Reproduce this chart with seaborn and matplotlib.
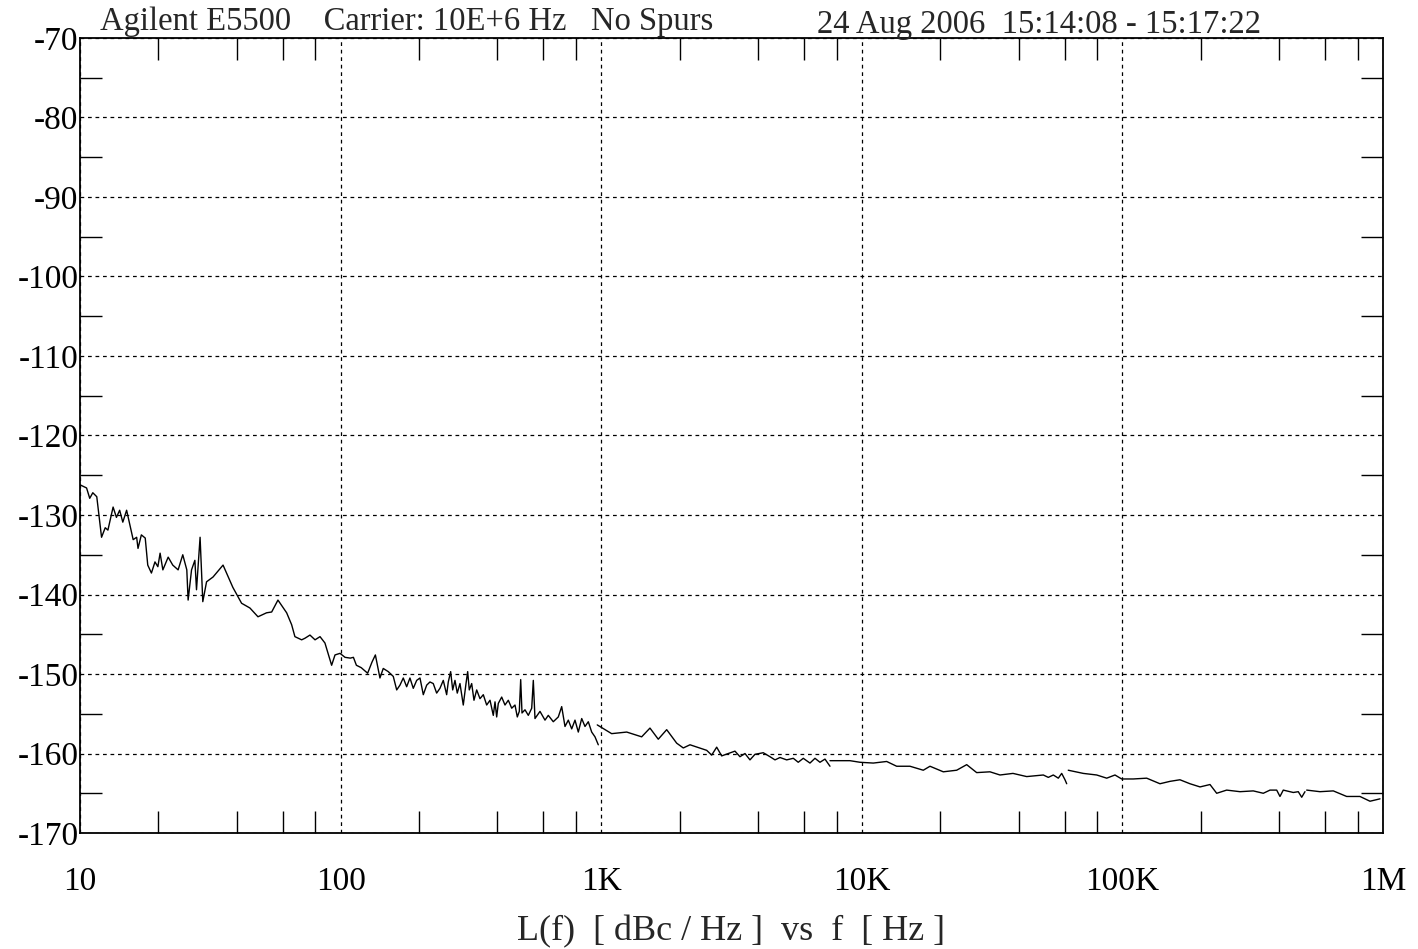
import numpy as np
import pandas as pd
import matplotlib
matplotlib.use("Agg")
import matplotlib.pyplot as plt
import matplotlib.ticker as mticker
import seaborn as sns

# phase noise trace, five sweep segments
seg1_freq = [10.0, 10.6, 10.9, 11.2, 11.6, 12.1, 12.5, 12.8, 13.4, 13.8, 14.2, 14.6, 15.1,
             16.0, 16.5, 16.7, 17.2, 17.8, 18.2, 18.8, 19.4, 19.9, 20.3, 20.8, 21.8, 22.7, 23.8,
             24.8, 25.7, 26.0, 26.8, 27.6, 28.0, 28.9, 29.6, 30.6, 32.4, 35.4, 38.6, 41.7, 44.9,
             48.2, 52.0, 54.4, 57.5, 62.1, 64.9, 66.8, 70.9, 73.0, 76.3, 79.8, 83.4, 87.1, 92.4,
             95.2, 99.5, 104, 109, 112, 115, 120, 127, 132, 136,
             141.6, 145.8, 152.4, 159.3, 164.2, 169.0, 174.0, 179.3, 184.6, 190.1, 195.9, 201.7,
             207.7, 214.0, 220.3, 226.8, 233.7, 240.6, 247.8, 255.3, 259.0, 264.5, 269.3, 274.8,
             280.4, 287.2, 295.7, 302.9, 307.4, 311.8, 318.5, 325.0, 332.9, 342.7, 352.9, 363.6,
             374.5, 385.5, 391.4, 397.2, 402.9, 415.2, 427.5, 440.2, 453.6, 467.0, 476.6, 485.1,
             491.1, 496.8, 510.1, 525.3, 541.3, 549.0, 557.2, 582.4, 608.7, 626.7, 655.0, 684.6,
             705.5, 726.4, 747.9, 770.7, 793.5, 817.0, 842.0, 866.8, 892.5, 919.6, 946.8, 974.8]
seg1_dbc = [-126.2, -126.6, -127.9, -127.2, -127.7, -132.8, -131.6, -131.9, -129.0, -130.3, -129.4,
            -130.9, -129.4, -133.1, -132.8, -134.2, -132.5, -132.9, -136.3, -137.3, -135.9, -136.5,
            -134.8, -136.9, -135.3, -136.3, -136.9, -135.0, -136.9, -140.7, -136.9, -135.7, -139.4,
            -132.8, -140.9, -138.4, -137.8, -136.3, -139.1, -141.1, -141.7, -142.8, -142.3, -142.2,
            -140.7, -142.3, -143.8, -145.3, -145.7, -145.5, -145.1, -145.7, -145.3, -146.1, -148.9,
            -147.6, -147.4, -147.9, -148.0, -147.9, -148.9, -149.2, -149.9, -148.5, -147.6,
            -150.5, -149.3, -149.7, -150.3, -152.0, -151.4, -150.5, -151.6, -150.5, -151.8, -150.8, -150.5,
            -152.6, -151.4, -151.0, -151.2, -152.4, -151.8, -150.8, -152.6, -151.0, -149.7, -152.0, -150.8,
            -152.4, -151.2, -153.9, -151.2, -149.7, -152.0, -151.2, -153.3, -152.0, -153.1, -152.6, -153.9,
            -153.3, -155.2, -153.5, -155.4, -153.7, -152.9, -153.9, -153.3, -154.3, -153.9, -155.4, -154.7,
            -150.7, -154.9, -154.5, -155.2, -154.3, -150.8, -155.6, -154.7, -155.8, -155.2, -156.0, -155.4,
            -154.1, -156.6, -155.8, -156.9, -155.8, -157.3, -155.6, -156.6, -156.0, -157.3, -157.9, -158.9]

seg2_freq = [966, 1097, 1253, 1430, 1539, 1656, 1784, 1949, 2066, 2192, 2541, 2655, 2775, 2900,
             3074, 3261, 3409, 3563, 3724, 3892, 4188, 4444, 4645, 4855, 5150, 5461, 5704, 5964,
             6327, 6613, 6912, 7224, 7551]
seg2_dbc = [-156.4, -157.5, -157.3, -157.9, -156.8, -158.2, -157.0, -158.7, -159.3, -158.9, -159.6,
            -160.2, -159.2, -160.3, -160.0, -159.7, -160.4, -160.0, -160.8, -160.1, -159.9, -160.4,
            -160.8, -160.5, -160.8, -160.6, -161.1, -160.6, -161.2, -160.6, -161.1, -160.7, -161.6]

seg3_freq = [7551, 9010, 9842, 11070, 12460, 13610, 15310, 17220, 18270, 20550, 23130, 25270,
             27600, 31040, 33910, 38040, 42940, 49730, 51970, 54320, 56780, 58500, 60230, 61140]
seg3_dbc = [-160.9, -160.9, -161.1, -161.2, -161.0, -161.6, -161.6, -162.1, -161.6, -162.3, -162.1,
            -161.4, -162.4, -162.3, -162.7, -162.5, -162.9, -162.7, -163.0, -162.7, -163.1, -162.5,
            -163.3, -163.8]

seg4_freq = [61990, 70790, 79710, 87080, 93670, 99380, 110100, 123960, 139400, 152300, 166300,
             181700, 198600, 216900, 230100, 251300, 282800, 317900, 347300, 368500, 391000,
             402500, 414400, 452800, 473200, 487700, 502000]
seg4_dbc = [-162.1, -162.5, -162.7, -163.1, -162.7, -163.2, -163.2, -163.1, -163.8, -163.5, -163.3,
            -163.8, -164.2, -163.9, -165.0, -164.6, -164.8, -164.7, -165.0, -164.6, -164.6, -165.4,
            -164.6, -164.9, -164.8, -165.5, -164.8]

seg5_freq = [509600, 573200, 644700, 725500, 816000, 891600, 973900]
seg5_dbc = [-164.6, -164.8, -164.7, -165.4, -165.4, -166.0, -165.7]

x_ticks = [10, 100, 1e3, 1e4, 1e5, 1e6]
x_labels = ["10", "100", "1K", "10K", "100K", "1M"]

segments = [(seg1_freq, seg1_dbc), (seg2_freq, seg2_dbc), (seg3_freq, seg3_dbc),
            (seg4_freq, seg4_dbc), (seg5_freq, seg5_dbc)]
df = pd.concat([pd.DataFrame({"freq": f, "dbc": d, "seg": i})
                for i, (f, d) in enumerate(segments)], ignore_index=True)

sns.set_style("white")
plt.rcParams["font.family"] = ["Liberation Serif", "DejaVu Serif"]
plt.rcParams["axes.unicode_minus"] = False

fig = plt.figure(figsize=(14.18, 9.49), dpi=100)
ax = fig.add_axes([0.0564, 0.1222, 0.9189, 0.8378])

sns.lineplot(data=df, x="freq", y="dbc", units="seg", estimator=None, sort=False,
             color="black", linewidth=1.0, ax=ax)

ax.set_xscale("log")
ax.set_xlim(10, 1e6)
ax.set_ylim(-170, -70)
ax.set_xticks(x_ticks)
ax.set_xticklabels(x_labels)
ax.xaxis.set_minor_locator(mticker.LogLocator(base=10, subs=[2, 4, 6, 8]))
ax.xaxis.set_minor_formatter(mticker.NullFormatter())
ax.set_yticks(np.arange(-170, -69, 10))
ax.yaxis.set_minor_locator(mticker.MultipleLocator(5))

ax.grid(True, which="major", color="black", linestyle=(0, (3, 3)), linewidth=0.9)
ax.tick_params(which="major", direction="in", length=0, colors="black")
ax.tick_params(which="minor", direction="in", length=16, width=1, color="black",
               top=True, right=True, bottom=True, left=True)
ax.tick_params(axis="x", which="major", pad=24, labelsize=24)
ax.tick_params(axis="y", which="major", pad=1, labelsize=24)
for sp in ax.spines.values():
    sp.set_color("black")
    sp.set_linewidth(1.3)

ax.set_xlabel("L(f)  [ dBc / Hz ]  vs  f  [ Hz ]", fontsize=26)
ax.xaxis.set_label_coords(0.5, -0.103)
ax.set_ylabel("")

fig.text(0.0705, 0.9684, "Agilent E5500    Carrier: 10E+6 Hz   No Spurs",
         fontsize=23.5, va="baseline")
fig.text(0.576, 0.9652, "24 Aug 2006  15:14:08 - 15:17:22", fontsize=23.5, va="baseline")

fig.savefig("out.png", dpi=100)
